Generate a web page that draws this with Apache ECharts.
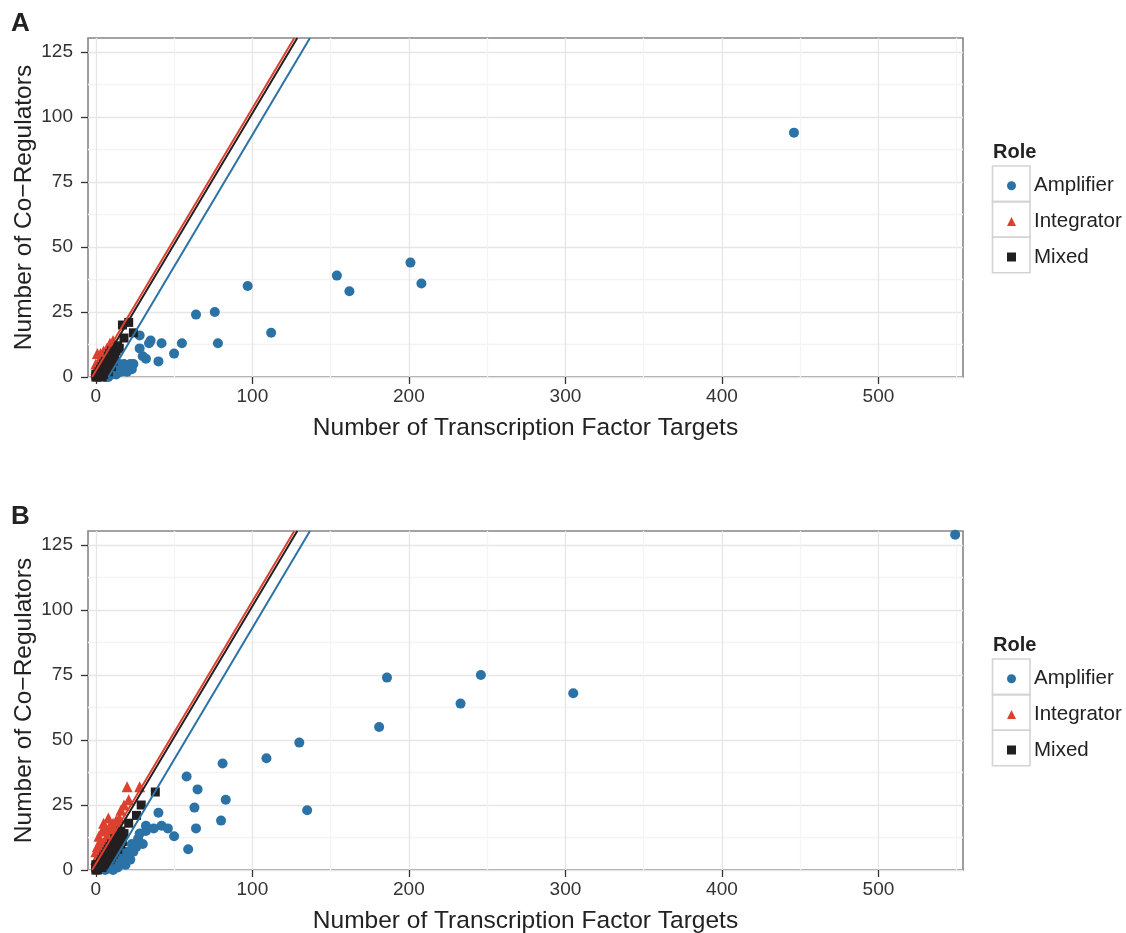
<!DOCTYPE html>
<html>
<head>
<meta charset="utf-8">
<title>Co-Regulators vs Transcription Factor Targets</title>
<script src="https://cdn.jsdelivr.net/npm/echarts@6/dist/echarts.min.js"></script>
<style>
    html, body { margin: 0; padding: 0; background: #fff; }
    #chart_box { width: 1126px; height: 933px; }
</style>
</head>
<body>
<div id="chart_box"></div>
<script>
// axis ticks
var xTicks = [0, 100, 200, 300, 400, 500];
var xMinorTicks = [50, 150, 250, 350, 450, 550];
var yTicks = [0, 25, 50, 75, 100, 125];
var yMinorTicks = [12.5, 37.5, 62.5, 87.5, 112.5];
var roles = ['Amplifier', 'Integrator', 'Mixed'];

// panel A  [targets, co-regulators]
var amplifierA = [[446, 94], [201, 44], [208, 36], [154, 39], [162, 33], [97, 35], [76, 25], [64, 24],
    [112, 17], [78, 13], [55, 13], [50, 9], [42, 13], [40, 6], [35, 14], [34, 13], [28, 16], [28, 11],
    [30, 8], [32, 7], [24, 5], [23, 3], [18, 5], [15, 5], [13, 1], [12, 3], [20, 2], [10, 1], [8, 0],
    [16, 2], [19, 4], [14, 3], [11, 2], [22, 5], [6, 0], [9, 1]];
var integratorA = [[11, 14], [9, 13], [7, 11], [5, 10], [3, 9], [1, 9], [4, 8], [2, 6], [0, 5],
    [1, 4], [0, 3], [6, 9], [3, 7], [0, 2]];
var mixedA = [[21, 21], [17, 20], [18, 15], [24, 17], [15, 11], [13, 10], [10, 8], [12, 9], [11, 7],
    [14, 12], [8, 6], [9, 7], [7, 6], [5, 4], [4, 3], [3, 2], [2, 2], [1, 1], [0, 0], [2, 1], [3, 3],
    [4, 4], [5, 5], [6, 6], [7, 5], [8, 8], [9, 9], [10, 10], [1, 0], [0, 1], [3, 1], [5, 3], [5, 1],
    [7, 3], [9, 5], [11, 6], [12, 8], [8, 2], [6, 3], [10, 4], [4, 0]];

// panel B
var amplifierB = [[549, 129], [246, 75], [186, 74], [233, 64], [305, 68], [181, 55], [130, 49],
    [109, 43], [135, 23], [81, 41], [58, 36], [65, 31], [83, 27], [63, 24], [40, 22], [80, 19], [64, 16],
    [32, 17], [32, 15], [37, 16], [42, 17], [46, 16], [50, 13], [27, 12], [30, 10], [59, 8], [20, 7],
    [24, 7], [15, 5], [19, 2], [17, 7], [12, 3], [10, 2], [22, 4], [14, 1], [8, 1], [26, 9], [18, 4],
    [6, 0], [11, 0], [28, 14], [23, 10], [15, 4]];
var integratorB = [[20, 32], [28, 32], [21, 27], [16, 23], [8, 20], [11, 18], [6, 16], [4, 15], [7, 13],
    [3, 11], [1, 9], [12, 16], [15, 20], [5, 18], [2, 13], [0, 7], [1, 5], [0, 4], [9, 17], [4, 10],
    [2, 8], [13, 19], [18, 25], [10, 15], [6, 11], [3, 6]];
var mixedB = [[38, 30], [29, 25], [26, 21], [21, 18], [18, 14], [17, 11], [15, 13], [14, 10], [12, 9],
    [11, 8], [10, 7], [9, 6], [8, 6], [7, 5], [6, 4], [5, 4], [4, 3], [3, 2], [2, 1], [1, 1], [0, 0],
    [1, 0], [2, 2], [3, 3], [4, 4], [5, 5], [6, 6], [7, 7], [8, 8], [9, 9], [10, 10], [12, 12], [13, 12],
    [16, 15], [0, 1], [0, 2], [1, 2], [3, 1], [5, 2], [6, 2], [8, 4], [10, 5], [12, 7], [14, 8],
    [16, 10], [4, 1], [7, 3], [9, 4], [11, 6], [13, 9]];

// reference lines (same in both panels)
var integratorLine = [[-2.4, 0], [126.8, 130.4]];
var mixedLine = [[-0.6, 0], [128.7, 130.4]];
var amplifierLine = [[8.1, 0], [136.8, 130.4]];

(function() {
    var font = '"Liberation Sans", Arial, Helvetica, sans-serif';
    var colors = { Amplifier: '#2b72a7', Integrator: '#dc4130', Mixed: '#231f20' };
    var symbols = { Amplifier: 'circle', Integrator: 'triangle', Mixed: 'rect' };
    var sizes = { Amplifier: 10, Integrator: 11, Mixed: 9 };
    var panelTop = [38, 531];
    var panelH = 339;

    var myChart = echarts.init(document.getElementById('chart_box'));

    var grids = [], xAxes = [], yAxes = [], series = [], legends = [], graphics = [];

    function mainX(gi) {
        return {
            gridIndex: gi, type: 'value', min: -5, max: 554, position: 'bottom',
            name: 'Number of Transcription Factor Targets',
            nameLocation: 'middle', nameGap: 39, nameMoveOverlap: false,
            nameTextStyle: { fontFamily: font, fontSize: 24.5, color: '#222' },
            axisLine: { show: false, onZero: false },
            axisTick: { show: true, length: 7, inside: false, customValues: xTicks,
                lineStyle: { color: '#333', width: 1.3 } },
            axisLabel: { customValues: xTicks, margin: 10, fontFamily: font, fontSize: 19, color: '#333' },
            splitLine: { show: true, lineStyle: { color: '#e6e6e6', width: 1.3 } }
        };
    }
    function minorX(gi) {
        return {
            gridIndex: gi, type: 'value', min: -5, max: 554, position: 'top',
            axisLine: { show: false, onZero: false },
            axisTick: { show: false, length: 0, customValues: xMinorTicks },
            axisLabel: { show: false, customValues: xMinorTicks },
            splitLine: { show: true, lineStyle: { color: '#f4f4f4', width: 1.3 } }
        };
    }
    function mainY(gi) {
        return {
            gridIndex: gi, type: 'value', min: 0, max: 130.4, position: 'left',
            name: 'Number of Co\u2212Regulators',
            nameLocation: 'middle', nameGap: 51, nameMoveOverlap: false,
            nameTextStyle: { fontFamily: font, fontSize: 24.5, color: '#222' },
            axisLine: { show: false, onZero: false },
            axisTick: { show: true, length: 7, inside: false, customValues: yTicks,
                lineStyle: { color: '#333', width: 1.3 } },
            axisLabel: { customValues: yTicks, margin: 15, fontFamily: font, fontSize: 19, color: '#333' },
            splitLine: { show: true, lineStyle: { color: '#e6e6e6', width: 1.3 } }
        };
    }
    function minorY(gi) {
        return {
            gridIndex: gi, type: 'value', min: 0, max: 130.4, position: 'right',
            axisLine: { show: false, onZero: false },
            axisTick: { show: false, length: 0, customValues: yMinorTicks },
            axisLabel: { show: false, customValues: yMinorTicks },
            splitLine: { show: true, lineStyle: { color: '#f4f4f4', width: 1.3 } }
        };
    }

    var panels = [
        { amp: amplifierA, integ: integratorA, mixed: mixedA, label: 'A' },
        { amp: amplifierB, integ: integratorB, mixed: mixedB, label: 'B' }
    ];

    for (var i = 0; i < panels.length; i++) {
        var p = panels[i];
        var top = panelTop[i];
        grids.push({
            left: 88, top: top, width: 875, height: panelH,
            show: true, borderColor: '#858585', borderWidth: 1.6, backgroundColor: 'transparent',
            containLabel: false, outerBoundsMode: 'none'
        });
        // main axes at index 2i, minor axes at 2i+1
        xAxes.push(mainX(i)); xAxes.push(minorX(i));
        yAxes.push(mainY(i)); yAxes.push(minorY(i));
        var xi = 2 * i, yi = 2 * i;

        var pts = { Amplifier: p.amp, Integrator: p.integ, Mixed: p.mixed };
        for (var r = 0; r < roles.length; r++) {
            var role = roles[r];
            series.push({
                name: role, type: 'scatter', xAxisIndex: xi, yAxisIndex: yi,
                data: pts[role], symbol: symbols[role], symbolSize: sizes[role],
                itemStyle: { color: colors[role], opacity: 1 },
                clip: true, z: 3 + r
            });
        }
        var lines = [
            { d: amplifierLine, c: colors.Amplifier },
            { d: mixedLine, c: colors.Mixed },
            { d: integratorLine, c: colors.Integrator }
        ];
        for (var k = 0; k < lines.length; k++) {
            series.push({
                name: 'line' + i + k, type: 'line', xAxisIndex: xi, yAxisIndex: yi,
                data: lines[k].d, showSymbol: false, symbol: 'none', clip: true, silent: true,
                lineStyle: { color: lines[k].c, width: 2 }, z: 10
            });
        }

        legends.push({
            orient: 'vertical', left: 1002, top: top + 125, itemGap: 0,
            itemWidth: 9, itemHeight: 9, selectedMode: false,
            textStyle: { fontFamily: font, fontSize: 20.5, color: '#222', lineHeight: 35.6, padding: [0, 0, 0, 13] },
            data: roles.map(function(rn) {
                return { name: rn, icon: symbols[rn], itemStyle: { color: colors[rn] } };
            })
        });

        graphics.push({
            type: 'text', left: 11, top: top - 27,
            style: { text: p.label, fontFamily: font, fontSize: 26, fontWeight: 'bold', fill: '#222' }
        });
        graphics.push({
            type: 'text', left: 993, top: top + 104,
            style: { text: 'Role', fontFamily: font, fontSize: 20, fontWeight: 'bold', fill: '#222' }
        });
        for (var b = 0; b < 3; b++) {
            graphics.push({
                type: 'rect', silent: true,
                shape: { x: 992.5, y: top + 128 + b * 35.6, width: 37.5, height: 35.6 },
                style: { fill: 'none', stroke: '#d3d3d3', lineWidth: 1.6 }
            });
        }
    }

    myChart.setOption({
        backgroundColor: '#fff',
        animation: false,
        grid: grids,
        xAxis: xAxes,
        yAxis: yAxes,
        legend: legends,
        graphic: graphics,
        series: series
    });
})();
</script>
</body>
</html>
